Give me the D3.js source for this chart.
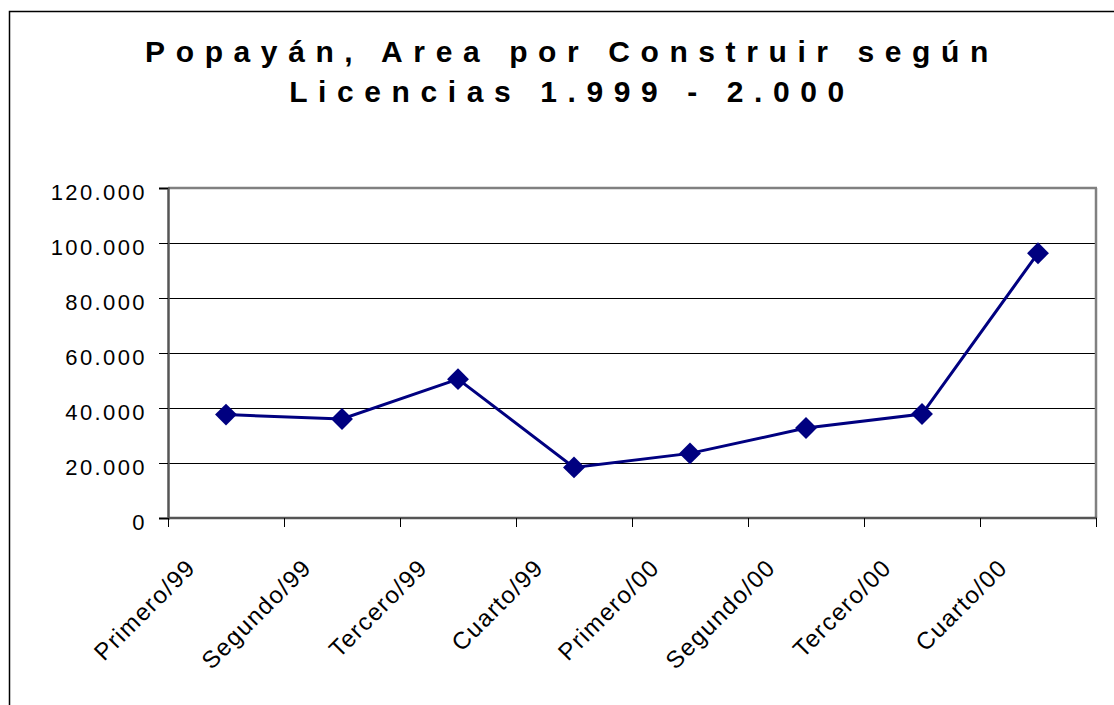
<!DOCTYPE html>
<html>
<head>
<meta charset="utf-8">
<script src="https://cdn.jsdelivr.net/npm/d3@7"></script>
<style>
  html, body { margin: 0; padding: 0; background: #fff; }
  svg { display: block; }
  text { font-family: "Liberation Sans", Arial, sans-serif; fill: #000; }
</style>
</head>
<body>
<svg id="chart" width="1114" height="705"></svg>
<script>
// datos del grafico
const trimestres = ["Primero/99", "Segundo/99", "Tercero/99", "Cuarto/99",
                    "Primero/00", "Segundo/00", "Tercero/00", "Cuarto/00"];
const area = [37600, 36000, 50500, 18400, 23500, 32700, 37800, 96300];
const yTicks = [0, 20000, 40000, 60000, 80000, 100000, 120000];
const titulo = ["Popayán, Area por Construir según", "Licencias 1.999 - 2.000"];

const svg = d3.select("#chart");

// marco exterior (sigue fuera de la ventana por derecha y abajo)
svg.append("rect")
    .attr("x", 9.5).attr("y", 11.5)
    .attr("width", 1200).attr("height", 800)
    .style("fill", "none").style("stroke", "#000").style("stroke-width", 1.5);

// titulo
svg.selectAll(".titulo")
    .data(titulo)
    .enter()
    .append("text")
    .attr("class", "titulo")
    .attr("x", 572)
    .attr("y", (d, i) => 62 + i * 40)
    .attr("text-anchor", "middle")
    .style("font-size", "30px")
    .style("font-weight", "bold")
    .style("letter-spacing", "10.6px")
    .text(d => d);

const mIzq = 168, mDer = 1096, mSup = 188, mInf = 518;

const x = d3.scaleBand().domain(trimestres).range([mIzq, mDer]).padding(0);
const y = d3.scaleLinear().domain([0, 120000]).range([mInf, mSup]);

const es = d3.formatLocale({ decimal: ",", thousands: ".", grouping: [3], currency: ["$", ""] });
const fmt = es.format(",d");

// lineas de division
svg.selectAll(".grid")
    .data(yTicks.filter(v => v > 0 && v < 120000))
    .enter()
    .append("line")
    .attr("x1", mIzq).attr("x2", mDer)
    .attr("y1", d => Math.round(y(d)) + 0.5)
    .attr("y2", d => Math.round(y(d)) + 0.5)
    .style("stroke", "#000").style("stroke-width", 1);

// borde del area de trazado
svg.append("line")
    .attr("x1", mIzq).attr("x2", mDer + 1).attr("y1", mSup).attr("y2", mSup)
    .style("stroke", "#808080").style("stroke-width", 2.5);
svg.append("line")
    .attr("x1", mDer).attr("x2", mDer).attr("y1", mSup).attr("y2", mInf)
    .style("stroke", "#808080").style("stroke-width", 2.5);

// eje y
const yAxis = svg.append("g")
    .attr("transform", `translate(${mIzq},0)`)
    .call(d3.axisLeft(y).tickValues(yTicks).tickFormat(fmt).tickSize(9).tickPadding(12));
yAxis.select(".domain").style("stroke", "#555").style("stroke-width", 2.5);
yAxis.selectAll(".tick line").style("stroke", "#000");
yAxis.selectAll(".tick text")
    .attr("dy", "0.5em")
    .style("font-size", "22px")
    .style("letter-spacing", "2.4px")
    .style("font-family", "'Liberation Sans', Arial, sans-serif");

// eje x: marcas en los limites de cada categoria
svg.append("line")
    .attr("x1", mIzq).attr("x2", mDer + 1).attr("y1", mInf).attr("y2", mInf)
    .style("stroke", "#555").style("stroke-width", 2.5);

const limites = trimestres.map(t => x(t)).concat([x.range()[1]]);
svg.selectAll(".xtick")
    .data(limites)
    .enter()
    .append("line")
    .attr("x1", d => Math.round(d) + 0.5).attr("x2", d => Math.round(d) + 0.5)
    .attr("y1", mInf).attr("y2", mInf + 9)
    .style("stroke", "#000").style("stroke-width", 1);

const cx = d => x(d) + x.bandwidth() / 2;

svg.selectAll(".xlabel")
    .data(trimestres)
    .enter()
    .append("text")
    .attr("transform", d => `translate(${cx(d) - 29},569) rotate(-45)`)
    .attr("text-anchor", "end")
    .style("font-size", "24px")
    .style("letter-spacing", "1.4px")
    .text(d => d);

// serie
const puntos = trimestres.map((t, i) => [cx(t), y(area[i])]);

svg.append("path")
    .datum(puntos)
    .attr("d", d3.line())
    .style("fill", "none")
    .style("stroke", "#000080")
    .style("stroke-width", 3);

svg.selectAll(".marca")
    .data(puntos)
    .enter()
    .append("path")
    .attr("d", d3.symbol(d3.symbolSquare, 240))
    .attr("transform", d => `translate(${d[0]},${d[1]}) rotate(45)`)
    .style("fill", "#000080");
</script>
</body>
</html>
